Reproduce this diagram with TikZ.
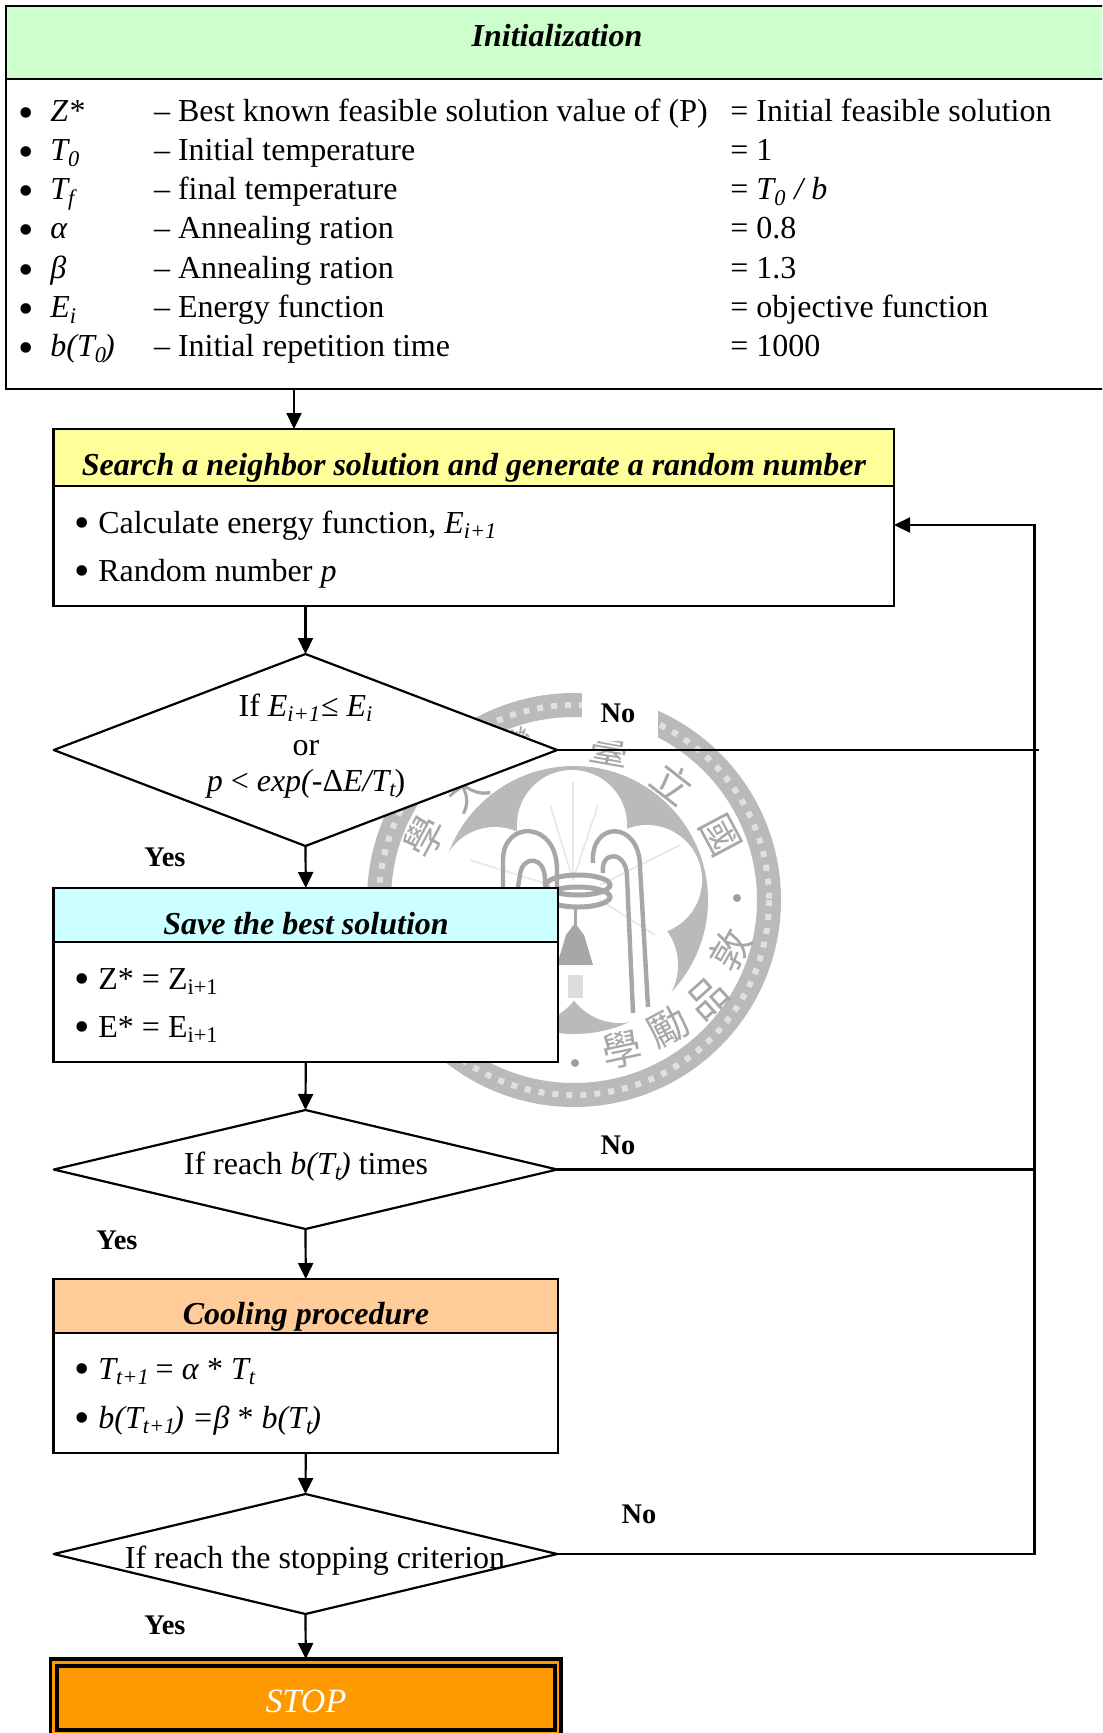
\documentclass[tikz,border=0pt]{standalone}
\usepackage{fontspec}
\setmainfont{Liberation Serif}
\newfontfamily\sealfont{Noto Sans CJK TC}
\usetikzlibrary{shapes.geometric, arrows.meta, positioning}
\definecolor{initgreen}{RGB}{204, 255, 204}
\definecolor{searchyellow}{RGB}{255, 255, 153}
\definecolor{savecyan}{RGB}{204, 255, 255}
\definecolor{coolpeach}{RGB}{255, 204, 153}
\definecolor{stoporange}{RGB}{255, 153, 0}
\definecolor{sealgray}{RGB}{186, 186, 186}
\newcommand{\lowtxt}[1]{\textsubscript{#1}}
\newcommand{\initbul}{\makebox[16pt][l]{\raisebox{-3pt}{\fontsize{22}{22}\selectfont •}}}
\newcommand{\boxbul}{\makebox[12pt][l]{\raisebox{-2pt}{\fontsize{22}{22}\selectfont •}}}

\begin{document}
\begin{tikzpicture}[
    x=0.5pt, y=-0.5pt,
    boxhead/.style={rectangle, draw=black, line width=1.1pt, outer sep=0pt, inner sep=0pt},
    boxbody/.style={rectangle, draw=black, fill=white, line width=1.1pt, outer sep=0pt, inner sep=0pt},
    decide/.style={diamond, draw=black, fill=white, line width=1.1pt, line join=round, outer sep=0pt, inner sep=0pt, minimum width=251.75pt},
    rowtxt/.style={anchor=base west, inner sep=0pt, font=\fontsize{16}{19}\selectfont},
    midtxt/.style={anchor=base, inner sep=0pt, font=\fontsize{16}{19}\selectfont},
    headtxt/.style={anchor=base, inner sep=0pt, font=\fontsize{16}{19}\selectfont\bfseries\itshape},
    answer/.style={inner sep=0pt, font=\fontsize{14.2}{16}\selectfont\bfseries},
    flow/.style={line width=1.1pt, -{Triangle[length=8pt, width=7.5pt]}},
    loopline/.style={line width=1.1pt},
    sealline/.style={draw=sealgray!90!black, line width=2.2pt},
    sealleaf/.style={draw=sealgray!35, line width=0.8pt},
    sealchar/.style={inner sep=0pt, text=sealgray!90!black, font=\sealfont\fontsize{20}{20}\selectfont}
]
    \clip (0, 0) rectangle (1102, 1733);

    % seal behind the chart
    \draw[sealgray, line width=12pt] (574, 900) circle [radius=195];
    \draw[sealgray!45, line width=3pt, dash pattern=on 3pt off 4pt] (574, 900) circle [radius=195];
    \fill[sealgray] (574, 900) circle [radius=134];
    \fill[white] (572, 825) circle [radius=55];
    \fill[white] (495, 882) circle [radius=55];
    \fill[white] (647, 880) circle [radius=55];
    \fill[white] (620, 965) circle [radius=58];
    \fill[white] (528, 965) circle [radius=58];
    \fill[white] (572, 895) circle [radius=70];
    \draw[sealleaf] (573, 880) -- (573, 782);
    \draw[sealleaf] (573, 880) -- (550, 805);
    \draw[sealleaf] (573, 880) -- (598, 805);
    \draw[sealleaf] (550, 885) -- (470, 860);
    \draw[sealleaf] (600, 885) -- (680, 845);
    \draw[sealleaf] (600, 900) -- (655, 935);
    \draw[sealline] (593, 863) .. controls (590, 820) and (640, 820) .. (640, 867) -- (648, 1007);
    \draw[sealline] (603, 873) .. controls (600, 850) and (627, 850) .. (627, 877) -- (633, 1013);
    \draw[sealline] (503, 887) -- (503, 860) .. controls (503, 820) and (557, 820) .. (557, 870) -- (557, 887);
    \draw[sealline] (518, 887) -- (520, 875) .. controls (522, 855) and (545, 855) .. (545, 880) -- (545, 888);
    \draw[sealgray!90!black, line width=2.5pt] (578, 885) ellipse [x radius=32, y radius=10];
    \draw[sealgray!90!black, line width=2.5pt] (578, 897) ellipse [x radius=32, y radius=10];
    \draw[sealgray!90!black, line width=1.5pt] (575, 905) -- (575, 925);
    \fill[sealgray!90!black] (575, 923) -- (584, 935) -- (593, 965) -- (557, 965) -- (566, 935) -- cycle;
    \fill[sealgray!50] (568, 975) rectangle (583, 998);
    \node[sealchar, rotate=-38] (sealli) at (673, 783) {立};
    \node[sealchar, rotate=-62] (sealguo) at (720, 835) {國};
    \node[sealchar, rotate=-10] (sealtai) at (610, 748) {臺};
    \node[sealchar, rotate=18] (sealwan) at (515, 748) {灣};
    \node[sealchar, rotate=38] (sealda) at (467, 790) {大};
    \node[sealchar, rotate=62] (sealxue) at (425, 837) {學};
    \node[sealchar, rotate=60] (sealdun) at (730, 950) {敦};
    \node[sealchar, rotate=42] (sealpin) at (708, 998) {品};
    \node[sealchar, rotate=28] (seallih) at (668, 1027) {勵};
    \node[sealchar, rotate=12] (sealxuetwo) at (622, 1050) {學};
    \fill[sealgray!85!black] (737, 898) circle [radius=4];
    \fill[sealgray!85!black] (575, 1063) circle [radius=4];

    % initialization block
    \node[boxhead, fill=initgreen, minimum width=557.2pt, minimum height=36.5pt] (inithead) at (562.8, 42.5) {};
    \node[boxbody, minimum width=557.2pt, minimum height=155pt] (initbody) at (562.8, 234) {};
    \node[headtxt] (inittitle) at (557, 47) {Initialization};

    \node[rowtxt] (zstar) at (18, 122) {\initbul\textit{Z*}};
    \node[rowtxt] (zstardesc) at (153.6, 122) {– Best known feasible solution value of (P)};
    \node[rowtxt] (zstarval) at (730, 122) {= Initial feasible solution};
    \node[rowtxt] (tzero) at (18, 161) {\initbul\textit{T\lowtxt{0}}};
    \node[rowtxt] (tzerodesc) at (153.6, 161) {– Initial temperature};
    \node[rowtxt] (tzeroval) at (730, 161) {= 1};
    \node[rowtxt] (tfin) at (18, 200) {\initbul\textit{T\lowtxt{f}}};
    \node[rowtxt] (tfindesc) at (153.6, 200) {– final temperature};
    \node[rowtxt] (tfinval) at (730, 200) {= \textit{T\lowtxt{0} / b}};
    \node[rowtxt] (alpha) at (18, 239) {\initbul\textit{α}};
    \node[rowtxt] (alphadesc) at (153.6, 239) {– Annealing ration};
    \node[rowtxt] (alphaval) at (730, 239) {= 0.8};
    \node[rowtxt] (beta) at (18, 279) {\initbul\textit{β}};
    \node[rowtxt] (betadesc) at (153.6, 279) {– Annealing ration};
    \node[rowtxt] (betaval) at (730, 279) {= 1.3};
    \node[rowtxt] (energy) at (18, 318) {\initbul\textit{E\lowtxt{i}}};
    \node[rowtxt] (energydesc) at (153.6, 318) {– Energy function};
    \node[rowtxt] (energyval) at (730, 318) {= objective function};
    \node[rowtxt] (rep) at (18, 357) {\initbul\textit{b(T\lowtxt{0}\kern-1.5pt)}};
    \node[rowtxt] (repdesc) at (153.6, 357) {– Initial repetition time};
    \node[rowtxt] (repval) at (730, 357) {= 1000};

    % search block
    \node[boxhead, fill=searchyellow, minimum width=420.25pt, minimum height=28.5pt] (searchhead) at (473.75, 457.5) {};
    \node[boxbody, minimum width=420.25pt, minimum height=60pt] (searchbody) at (473.75, 546) {};
    \node[headtxt] (searchtitle) at (474, 475) {Search a neighbor solution and generate a random number};
    \node[rowtxt] (searchone) at (74, 533) {\boxbul Calculate energy function, \textit{E\lowtxt{i+1}}};
    \node[rowtxt] (searchtwo) at (74, 581) {\boxbul Random number \textit{p}};

    % first test
    \node[decide, minimum height=96pt] (testone) at (305.5, 750) {};
    \node[midtxt] (testonea) at (306, 716) {If \textit{E\lowtxt{i+1}}≤ \textit{E\lowtxt{i}}};
    \node[midtxt] (testoneb) at (306, 755) {or};
    \node[midtxt] (testonec) at (306, 791) {\textit{p} < \textit{exp(-}Δ\textit{E/T\lowtxt{t}\kern-1pt})};
    \node[answer, fill=white, minimum width=38pt, minimum height=24pt] (noone) at (620, 717) {};
    \node[answer] (noonetxt) at (618, 713) {No};
    \node[answer] (yesone) at (165, 857) {Yes};

    % save block
    \node[boxhead, fill=savecyan, minimum width=252.25pt, minimum height=27pt] (savehead) at (305.75, 915) {};
    \node[boxbody, minimum width=252.25pt, minimum height=60pt] (savebody) at (305.75, 1002) {};
    \node[headtxt] (savetitle) at (306, 934) {Save the best solution};
    \node[rowtxt] (saveone) at (74, 989) {\boxbul Z* = Z\lowtxt{i+1}};
    \node[rowtxt] (savetwo) at (74, 1037) {\boxbul E* = E\lowtxt{i+1}};

    % second test
    \node[decide, minimum height=59.5pt] (testtwo) at (305.5, 1169.5) {};
    \node[midtxt] (testtwoa) at (306, 1174) {If reach \textit{b(T\lowtxt{t}\kern-1pt)} times};
    \node[answer] (notwo) at (618, 1145) {No};
    \node[answer] (yestwo) at (117, 1240) {Yes};

    % cooling block
    \node[boxhead, fill=coolpeach, minimum width=252.25pt, minimum height=27pt] (coolhead) at (305.75, 1306) {};
    \node[boxbody, minimum width=252.25pt, minimum height=60pt] (coolbody) at (305.75, 1393) {};
    \node[headtxt] (cooltitle) at (306, 1324) {Cooling procedure};
    \node[rowtxt] (coolone) at (74, 1379) {\boxbul\textit{T\lowtxt{t+1}\kern-1pt} = \textit{α} * \textit{T\lowtxt{t}}};
    \node[rowtxt] (cooltwo) at (74, 1428) {\boxbul\textit{b(T\lowtxt{t+1}\kern-1.5pt) =β} * \textit{b(T\lowtxt{t}\kern-1.5pt)}};

    % third test
    \node[decide, minimum height=60pt] (testthree) at (305.5, 1554) {};
    \node[midtxt] (testthreea) at (315, 1568) {If reach the stopping criterion};
    \node[answer] (nothree) at (639, 1514) {No};
    \node[answer] (yesthree) at (165, 1625) {Yes};

    % stop block
    \node[boxhead, fill=stoporange, line width=1.6pt, minimum width=255.2pt, minimum height=39pt] (stopouter) at (305.75, 1698) {};
    \node[boxhead, fill=stoporange, line width=1.6pt, minimum width=249pt, minimum height=32pt] (stopinner) at (306, 1698) {};
    \node[headtxt, text=white, font=\fontsize{17}{20}\selectfont\itshape] (stoptext) at (306, 1712) {STOP};

    \coordinate (initout) at (294, 389);
    \coordinate (searchin) at (294, 429);
    \coordinate (loopbottom) at (1034.5, 1554);
    \coordinate (looptop) at (1034.5, 525);
    \coordinate (testoneend) at (1039, 750);

    \draw[flow] (initout) -- (searchin);
    \draw[flow] (testone.north |- searchbody.south) -- (testone.north);
    \draw[flow] (testone.south) -- (savehead.north);
    \draw[flow] (savebody.south) -- (testtwo.north);
    \draw[flow] (testtwo.south) -- (coolhead.north);
    \draw[flow] (coolbody.south) -- (testthree.north);
    \draw[flow] (testthree.south) -- (stopouter.north);
    \draw[loopline] (testone.east) -- (testoneend);
    \draw[loopline] (testtwo.east) -- (testtwo.east -| loopbottom);
    \draw[flow] (testthree.east) -- (loopbottom) -- (looptop) -- (looptop -| searchbody.east);
\end{tikzpicture}
\end{document}
